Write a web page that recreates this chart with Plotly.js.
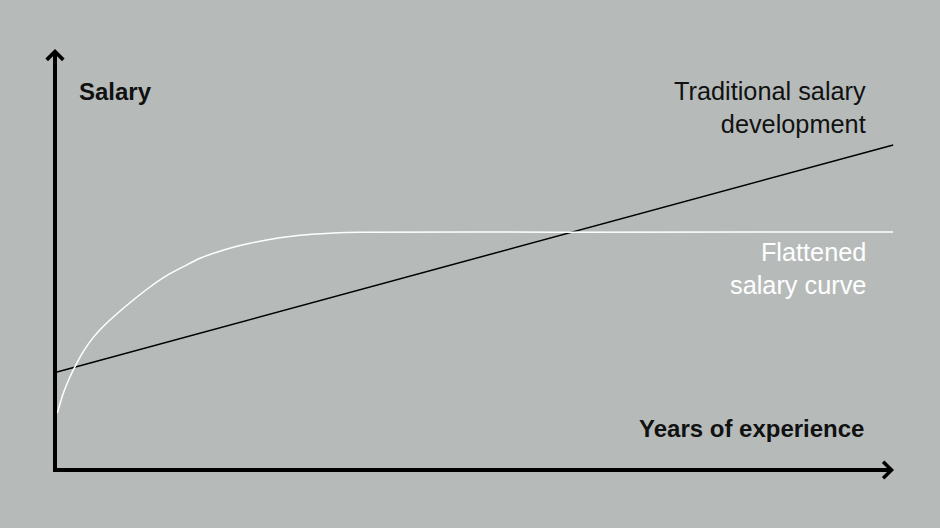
<!DOCTYPE html>
<html>
<head>
<meta charset="utf-8">
<script src="https://cdn.plot.ly/plotly-3.0.1.min.js"></script>
<style>html,body{margin:0;padding:0;background:#b6bbba;}#chart{width:940px;height:528px;}</style>
</head>
<body>
<div id="chart"></div>
<script>
// Years of experience (0-100 relative scale), salary (0-100 relative scale)
const traditionalYears = [0.24, 99.9];
const traditionalSalary = [23.3, 77.2];
const flattenedYears = [0.27, 0.99, 1.79, 2.59, 3.37, 4.56, 5.60, 7.35, 9.33, 11.32, 13.31, 15.29, 17.28, 19.27, 21.25, 23.24, 25.23, 27.21, 29.20, 31.19, 33.17, 36.35, 60, 99.88];
const flattenedSalary = [13.47, 18.22, 22.16, 25.34, 28.10, 31.5, 33.8, 37.05, 40.38, 43.47, 46.15, 48.29, 50.29, 51.71, 52.90, 53.85, 54.63, 55.27, 55.75, 56.06, 56.29, 56.46, 56.5, 56.53];
const labels = {
  yAxis: 'Salary',
  xAxis: 'Years of experience',
  traditional: 'Traditional salary<br>development',
  flattened: 'Flattened<br>salary curve'
};

const bg = '#b6bbba';
const ink = '#111111';
const font = 'Liberation Sans, Arial, sans-serif';

const traces = [
  {x: traditionalYears, y: traditionalSalary, mode: 'lines', line: {color: '#000000', width: 1.5}, hoverinfo: 'skip'},
  {x: flattenedYears, y: flattenedSalary, mode: 'lines', line: {color: '#ffffff', width: 1.5, shape: 'spline', smoothing: 0.8}, hoverinfo: 'skip'}
];

const layout = {
  width: 940, height: 528,
  margin: {l: 0, r: 0, t: 0, b: 0},
  paper_bgcolor: bg, plot_bgcolor: bg,
  showlegend: false,
  xaxis: {range: [-6.555, 105.48], visible: false, fixedrange: true},
  yaxis: {range: [-13.777, 111.64], visible: false, fixedrange: true},
  shapes: [
    {type: 'path', xref: 'x', yref: 'y', path: 'M 0 99 L 0 0 L 99 0', line: {color: '#000', width: 4}}
  ],
  annotations: [
    {x: 0, y: 100, ax: 0, ay: 98, xref: 'x', yref: 'y', axref: 'x', ayref: 'y', text: '', showarrow: true, arrowhead: 4, arrowsize: 0.8, arrowwidth: 4, arrowcolor: '#000', standoff: 0},
    {x: 100, y: 0, ax: 98, ay: 0, xref: 'x', yref: 'y', axref: 'x', ayref: 'y', text: '', showarrow: true, arrowhead: 4, arrowsize: 0.8, arrowwidth: 4, arrowcolor: '#000', standoff: 0},
    {xref: 'paper', yref: 'paper', x: 77/940, y: 1 - 91/528, xanchor: 'left', yanchor: 'middle', showarrow: false, text: '<b>' + labels.yAxis + '</b>', font: {family: font, size: 24, color: ink}},
    {xref: 'paper', yref: 'paper', x: 866/940, y: 1 - 428/528, xanchor: 'right', yanchor: 'middle', showarrow: false, text: '<b>' + labels.xAxis + '</b>', font: {family: font, size: 24, color: ink}},
    {xref: 'paper', yref: 'paper', x: 868/940, y: 1 - 107/528, xanchor: 'right', yanchor: 'middle', align: 'right', showarrow: false, text: labels.traditional, font: {family: font, size: 25.3, color: ink}},
    {xref: 'paper', yref: 'paper', x: 868/940, y: 1 - 268/528, xanchor: 'right', yanchor: 'middle', align: 'right', showarrow: false, text: labels.flattened, font: {family: font, size: 25.3, color: '#ffffff'}}
  ]
};

Plotly.newPlot('chart', traces, layout, {displayModeBar: false, staticPlot: true});
</script>
</body>
</html>
